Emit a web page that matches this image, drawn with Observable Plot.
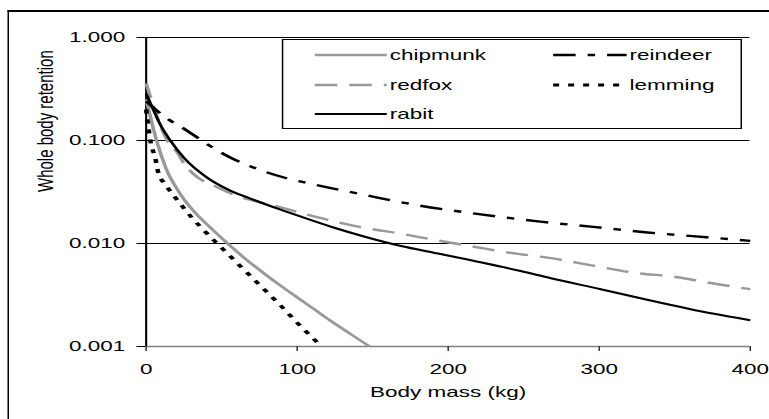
<!DOCTYPE html>
<html>
<head>
<meta charset="utf-8">
<script src="https://cdn.jsdelivr.net/npm/d3@7"></script>
<script src="https://cdn.jsdelivr.net/npm/@observablehq/plot@0.6"></script>
<style>
  html, body { margin: 0; padding: 0; background: #fff; overflow: hidden; }
  #stage { position: absolute; left: 0; top: 0; width: 513px; height: 419px; transform-origin: 0 0; }
  #border { position: absolute; left: 4.7px; top: 10px; width: 600px; height: 500px;
            border-left: 1.5px solid #000; border-top: 2px solid #000; pointer-events: none; }
  #legend { position: absolute; left: 188px; top: 39px; width: 307px; height: 90px;
            border: 1.3px solid #000; background: #fff; box-sizing: border-box; }
  #legend svg { position: absolute; left: 0; top: 0; overflow: visible; }
</style>
</head>
<body>
<div id="stage">
  <div id="chart"></div>
  <div id="border"></div>
  <div id="legend"></div>
</div>
<script>
// ---- data ----
const species = ["chipmunk", "redfox", "rabit", "reindeer", "lemming"];

const massChipmunk = [0, 2, 5, 9, 14, 20, 25, 35, 45, 54, 65, 78, 90, 100, 112, 122, 135, 148];
const retChipmunk  = [0.251, 0.191, 0.126, 0.0794, 0.050, 0.0347, 0.0269, 0.0182, 0.0132, 0.010, 0.00724, 0.00513, 0.0038, 0.0030, 0.00226, 0.00178, 0.00133, 0.001];

const massRedfox = [0, 5, 14, 21, 25, 34, 44, 60, 84, 109, 142, 168, 193, 219, 239, 268, 296, 323, 352, 371, 400];
const retRedfox  = [0.36, 0.21, 0.100, 0.075, 0.060, 0.044, 0.037, 0.029, 0.0235, 0.0187, 0.0144, 0.0125, 0.0107, 0.0092, 0.0082, 0.0072, 0.0061, 0.0052, 0.0047, 0.0042, 0.0036];

const massRabit = [0, 5, 9, 16, 25, 40, 55, 67, 89, 102, 124, 146, 168, 195, 223, 248, 268, 301, 334, 374, 400];
const retRabit  = [0.285, 0.195, 0.146, 0.100, 0.068, 0.044, 0.033, 0.028, 0.0213, 0.0183, 0.0143, 0.0115, 0.0095, 0.0079, 0.0065, 0.0054, 0.0046, 0.0036, 0.0028, 0.0021, 0.0018];

const massReindeer = [0, 11, 27, 42, 56, 75, 93, 102, 120, 140, 179, 219, 239, 261, 296, 332, 371, 400];
const retReindeer  = [0.24, 0.175, 0.125, 0.089, 0.068, 0.052, 0.043, 0.040, 0.035, 0.0306, 0.0236, 0.0194, 0.0178, 0.0163, 0.0145, 0.0128, 0.0115, 0.0106];

const massLemming = [0, 1.5, 3, 6, 8, 13, 21, 30, 36, 45, 55, 63, 78, 89, 100, 107, 116];
const retLemming  = [0.2, 0.134, 0.096, 0.068, 0.049, 0.037, 0.026, 0.018, 0.0145, 0.0107, 0.0077, 0.0059, 0.0036, 0.0025, 0.0017, 0.00135, 0.001];

const xTicks = [0, 100, 200, 300, 400];
const yTicks = [1, 0.1, 0.01, 0.001];
const yTickLabels = ["1.000", "0.100", "0.010", "0.001"];
const xLabel = "Body mass (kg)";
const yLabel = "Whole body retention";

// ---- styling ----
const FONT = "'Liberation Sans', Arial, Helvetica, sans-serif";
const styles = {
  chipmunk: {stroke: "#999999", strokeWidth: 2.4, dash: null},
  redfox:   {stroke: "#999999", strokeWidth: 2.4, dash: "15,8"},
  rabit:    {stroke: "#000000", strokeWidth: 2, dash: null},
  reindeer: {stroke: "#000000", strokeWidth: 2.4, dash: "15,8,5,8"},
  lemming:  {stroke: "#000000", strokeWidth: 3, dash: "4,6"}
};
const seriesData = {
  chipmunk: massChipmunk.map((m, i) => ({mass: m, ret: retChipmunk[i]})),
  redfox:   massRedfox.map((m, i) => ({mass: m, ret: retRedfox[i]})),
  rabit:    massRabit.map((m, i) => ({mass: m, ret: retRabit[i]})),
  reindeer: massReindeer.map((m, i) => ({mass: m, ret: retReindeer[i]})),
  lemming:  massLemming.map((m, i) => ({mass: m, ret: retLemming[i]}))
};

const W = 513, H = 419, SCALE = 769 / W;
document.getElementById("stage").style.transform = `scaleX(${SCALE})`;

const drawOrder = ["chipmunk", "redfox", "reindeer", "lemming", "rabit"];
const lineMarks = drawOrder.map(s => Plot.line(seriesData[s], {
  x: "mass", y: "ret", curve: "monotone-x",
  stroke: styles[s].stroke, strokeWidth: styles[s].strokeWidth,
  strokeDasharray: styles[s].dash, strokeLinecap: "butt", strokeLinejoin: "round"
}));

const chart = Plot.plot({
  width: W, height: H,
  marginLeft: 97, marginRight: 13, marginTop: 37, marginBottom: 73,
  style: {fontFamily: FONT, fontSize: "15px", color: "#000", background: "transparent", overflow: "visible"},
  x: {domain: [0, 400]},
  y: {type: "log", domain: [0.001, 1]},
  marks: [
    Plot.ruleY(yTicks.slice(0, 3), {stroke: "#000", strokeWidth: 1}),
    Plot.ruleY(yTicks.slice(3), {stroke: "#808080", strokeWidth: 1.5}),
    Plot.ruleX([0], {stroke: "#000", strokeWidth: 1.4}),
    ...lineMarks,
    Plot.axisY({ticks: yTicks, tickFormat: (d) => yTickLabels[yTicks.indexOf(d)], tickSize: 6, tickPadding: 8, label: null, stroke: "#000"}),
    Plot.axisX({ticks: xTicks, tickSize: 5, tickPadding: 12, label: null, stroke: "#333"}),
    Plot.text([yLabel], {frameAnchor: "left", rotate: -90, dx: -67, text: d => d, fontSize: 15}),
    Plot.text([xLabel], {frameAnchor: "bottom", dy: 46, lineAnchor: "middle", text: d => d, fontSize: 15})
  ]
});
document.getElementById("chart").appendChild(chart);

// ---- legend (inside the plot area, like the original) ----
const legendItems = [
  {name: "chipmunk", col: 0, row: 0},
  {name: "reindeer", col: 1, row: 0},
  {name: "redfox",   col: 0, row: 1},
  {name: "lemming",  col: 1, row: 1},
  {name: "rabit",    col: 0, row: 2}
];
const colX = [[21, 69], [180, 229]];
const rowY = [15, 45, 74];
const lsvg = d3.select("#legend").append("svg").attr("width", 307).attr("height", 90);
for (const it of legendItems) {
  const st = styles[it.name];
  const [x0, x1] = colX[it.col];
  const y = rowY[it.row];
  lsvg.append("line").attr("x1", x0).attr("x2", x1).attr("y1", y).attr("y2", y)
    .attr("stroke", st.stroke).attr("stroke-width", st.strokeWidth)
    .attr("stroke-dasharray", st.dash).attr("stroke-linecap", "butt");
  lsvg.append("text").attr("x", x1 + 2).attr("y", y).attr("dy", "0.35em")
    .attr("font-family", FONT).attr("font-size", 15).attr("fill", "#000").text(it.name);
}
</script>
</body>
</html>
